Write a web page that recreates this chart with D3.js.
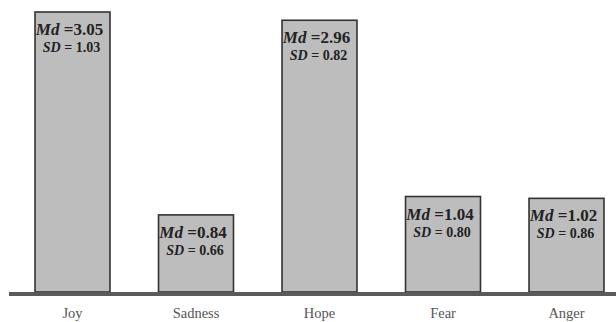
<!DOCTYPE html>
<html><head><meta charset="utf-8">
<script src="https://cdn.jsdelivr.net/npm/d3@7"></script>
<style>body{margin:0;background:#fff}svg{display:block}
text{font-family:"Liberation Serif","Times New Roman",serif}</style>
</head><body>
<svg id="c" width="616" height="322"></svg>
<script>
const categories = ["Joy","Sadness","Hope","Fear","Anger"];
const mdValues = [3.05,0.84,2.96,1.04,1.02];
const sdValues = [1.03,0.66,0.82,0.80,0.86];
const mdLabels = ["3.05","0.84","2.96","1.04","1.02"];
const sdLabels = ["1.03","0.66","0.82","0.80","0.86"];

const svg = d3.select("#c");
const x = d3.scaleBand().domain(categories).range([10.75, 628.25]).paddingInner(0.393).paddingOuter(0.1965);
const y = d3.scaleLinear().domain([0, 3.05]).range([292, 12]);
const data = categories.map((c,i)=>({c, md: mdValues[i], sd: sdValues[i], ml: mdLabels[i], sl: sdLabels[i]}));

svg.selectAll("rect.bar").data(data).enter().append("rect")
  .attr("class","bar")
  .attr("x", d=>x(d.c)).attr("width", x.bandwidth())
  .attr("y", d=>y(d.md)).attr("height", d=>y(0)-y(d.md))
  .attr("fill","#bdbdbd").attr("stroke","#333").attr("stroke-width",1.6);

const axis = d3.axisBottom(x).tickSize(0).tickPadding(14);
const g = svg.append("g").attr("transform","translate(0,294)").call(axis);
g.attr("font-family", null);
g.select(".domain").remove();
g.append("line").attr("x1",9).attr("x2",616).attr("y1",0).attr("y2",0).attr("stroke","#5a5a5a").attr("stroke-width",4);
g.selectAll(".tick text").attr("font-size",14.5).attr("fill","#555");

const lab = svg.selectAll("g.lab").data(data).enter().append("g").attr("class","lab")
  .attr("font-weight","bold").attr("fill","#222");
const t1 = lab.append("text").attr("x", d=>x(d.c)+x.bandwidth()/2-3).attr("y", d=>y(d.md)+23)
  .attr("text-anchor","middle").attr("font-size",17).attr("font-weight","bold");
t1.append("tspan").attr("font-style","italic").text("Md");
t1.append("tspan").text(d=>" =" + d.ml);
const t2 = lab.append("text").attr("x", d=>x(d.c)+x.bandwidth()/2-1).attr("y", d=>y(d.md)+40)
  .attr("text-anchor","middle").attr("font-size",14).attr("font-weight","bold");
t2.append("tspan").attr("font-style","italic").text("SD");
t2.append("tspan").text(d=>" = " + d.sl);
</script>
</body></html>
